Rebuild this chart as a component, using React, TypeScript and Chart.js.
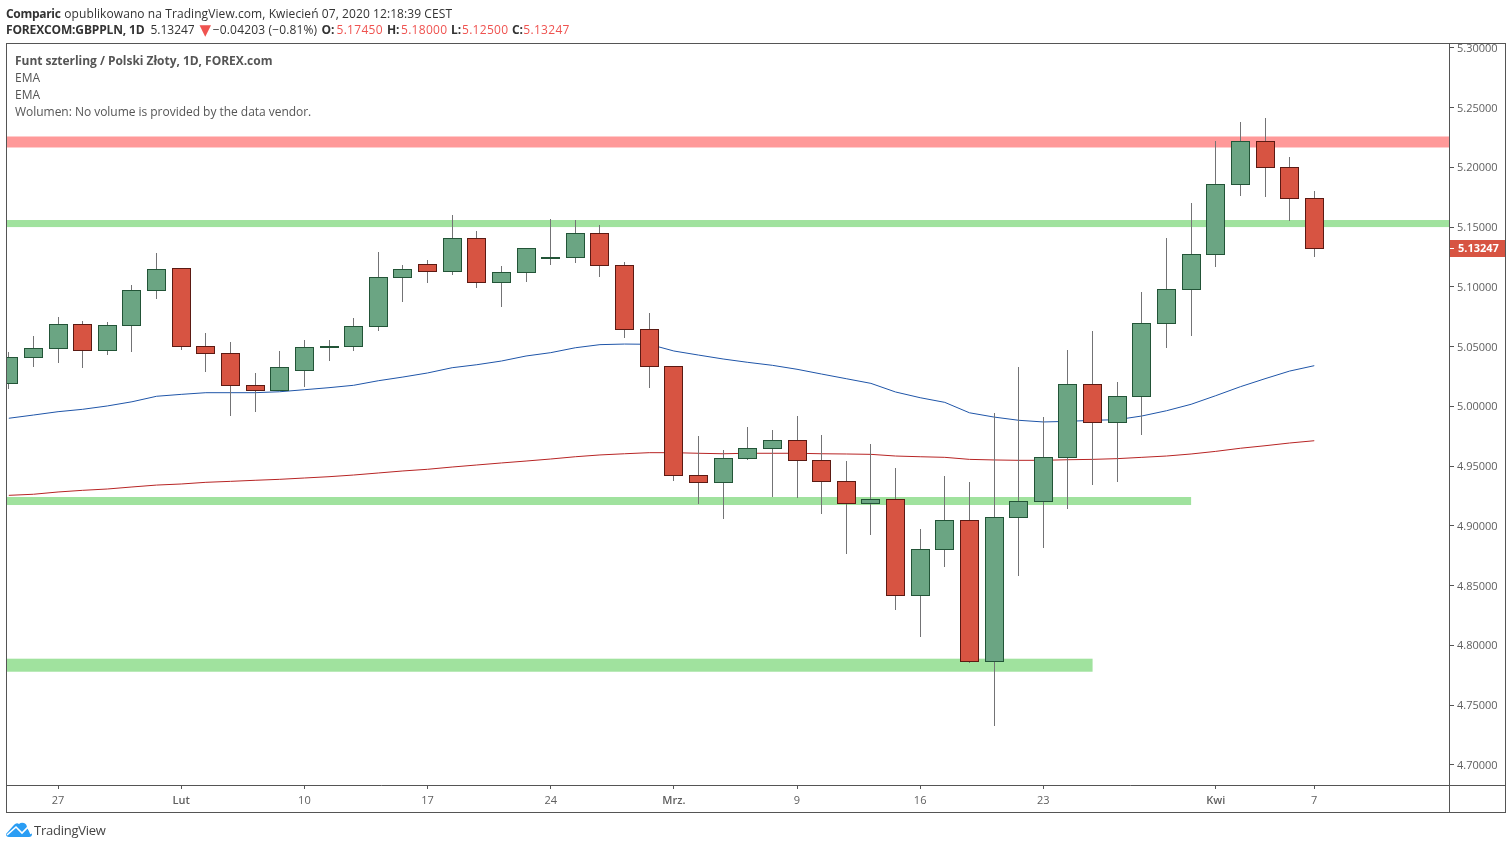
import React, { useEffect, useRef } from "react";
import { Chart, registerables } from "chart.js";

Chart.register(...registerables);

const opens = [5.0192,5.0410,5.0485,5.0686,5.0469,5.0678,5.0971,5.1155,5.0502,5.0444,5.0176,5.0134,5.0301,5.0495,5.0502,5.0669,5.1079,5.1188,5.1130,5.1406,5.1038,5.1121,5.1244,5.1249,5.1448,5.1180,5.0644,5.0335,4.9423,4.9364,4.9565,4.9649,4.9716,4.9548,4.9372,4.9188,4.9222,4.8418,4.8803,4.9046,4.7868,4.9071,4.9205,4.9573,5.0184,4.9866,5.0084,5.0695,5.0979,5.1272,5.1858,5.2218,5.2000,5.1745];
const closes = [5.0410,5.0485,5.0686,5.0469,5.0678,5.0971,5.1146,5.0502,5.0444,5.0176,5.0134,5.0326,5.0494,5.0501,5.0669,5.1079,5.1146,5.1130,5.1406,5.1038,5.1121,5.1322,5.1249,5.1448,5.1180,5.0644,5.0335,4.9423,4.9364,4.9565,4.9649,4.9716,4.9548,4.9372,4.9188,4.9222,4.8418,4.8803,4.9046,4.7868,4.9071,4.9205,4.9573,5.0184,4.9866,5.0084,5.0695,5.0979,5.1272,5.1858,5.2218,5.2000,5.1741,5.13247];
const highs = [5.0454,5.0588,5.0747,5.0714,5.0703,5.1015,5.1283,5.1155,5.0613,5.0538,5.0279,5.0463,5.0555,5.0555,5.0739,5.1291,5.1182,5.1224,5.1601,5.1467,5.1174,5.1322,5.1567,5.1559,5.1517,5.1208,5.0781,5.0335,4.9751,4.9634,4.9827,4.9802,4.9919,4.9760,4.9542,4.9685,4.9484,4.8973,4.9417,4.9367,4.9944,5.0329,4.9910,5.0471,5.0630,5.0203,5.0956,5.1408,5.1701,5.2220,5.2379,5.2413,5.2086,5.18];
const lows = [5.0147,5.0331,5.0365,5.0323,5.0432,5.0457,5.0900,5.0474,5.0290,4.9921,4.9955,5.0126,5.0164,5.0382,5.0465,5.0633,5.0875,5.1034,5.1101,5.0993,5.0834,5.1043,5.1185,5.1202,5.1085,5.0574,5.0156,4.9377,4.9185,4.9059,4.9553,4.9244,4.9235,4.9101,4.8767,4.8926,4.8298,4.8072,4.8658,4.7854,4.7327,4.8580,4.8814,4.9143,4.9344,4.9369,4.9762,5.0490,5.0591,5.1168,5.1762,5.1754,5.1553,5.125];
const blueEma = [4.9900,4.9927,4.9955,4.9975,5.0003,5.0038,5.0084,5.0100,5.0114,5.0114,5.0114,5.0122,5.0139,5.0156,5.0176,5.0214,5.0245,5.0279,5.0323,5.0348,5.0379,5.0421,5.0449,5.0490,5.0516,5.0521,5.0519,5.0463,5.0429,5.0396,5.0368,5.0343,5.0310,5.0270,5.0231,5.0192,5.0120,5.0072,5.0033,4.9946,4.9910,4.9883,4.9869,4.9874,4.9883,4.9888,4.9919,4.9963,5.0017,5.0089,5.0164,5.0231,5.0295,5.0340];
const redEma = [4.9255,4.9264,4.9283,4.9297,4.9308,4.9325,4.9341,4.9350,4.9364,4.9372,4.9381,4.9389,4.9400,4.9411,4.9425,4.9442,4.9459,4.9473,4.9492,4.9509,4.9526,4.9542,4.9559,4.9578,4.9593,4.9603,4.9612,4.9612,4.9607,4.9603,4.9607,4.9607,4.9607,4.9603,4.9601,4.9598,4.9584,4.9578,4.9573,4.9556,4.9551,4.9548,4.9548,4.9553,4.9556,4.9562,4.9573,4.9584,4.9601,4.9623,4.9649,4.9670,4.9693,4.9712];

const xTickIndexes = [2, 7, 12, 17, 22, 27, 32, 37, 42, 49, 53];
const xTickLabels = ["27", "Lut", "10", "17", "24", "Mrz.", "9", "16", "23", "Kwi", "7"];
const semiboldLabels = ["Lut", "Mrz.", "Kwi"];
const yTickValues = [4.7, 4.75, 4.8, 4.85, 4.9, 4.95, 5.0, 5.05, 5.1, 5.15, 5.2, 5.25, 5.3];

const bandTops = [5.2258, 5.1559, 4.9241, 4.7888];
const bandBottoms = [5.2166, 5.15, 4.9174, 4.7779];
const bandEnds = [null, null, 48, 44];
const bandColors = ["#FF9999", "#A0E29E", "#A0E29E", "#A0E29E"];

const lastPrice = 5.13247;
const lastPriceLabel = "5.13247";

const UP = "#6BA583", UP_B = "#225437", DOWN = "#D75442", DOWN_B = "#5B1A13";
const FONT = '"Open Sans", sans-serif';

const bandsPlugin = {
  id: "bands",
  beforeDatasetsDraw(chart: any) {
    const { ctx, chartArea: a, scales: { x, y } } = chart;
    ctx.save();
    bandTops.forEach((top, i) => {
      const y1 = y.getPixelForValue(top);
      const y2 = y.getPixelForValue(bandBottoms[i]);
      const end = bandEnds[i] === null ? a.right : x.getPixelForValue(bandEnds[i]);
      ctx.fillStyle = bandColors[i];
      ctx.fillRect(a.left, y1, end - a.left, y2 - y1);
    });
    ctx.restore();
  },
};

// Snap the scale-computed candle rectangles to whole device pixels.
const crispPlugin = {
  id: "crisp",
  afterDatasetsUpdate(chart: any) {
    chart.data.datasets.forEach((ds: any, di: number) => {
      if (ds.type === "line") return;
      const isBody = ds.label === "Body";
      chart.getDatasetMeta(di).data.forEach((el: any) => {
        const top = Math.round(Math.min(el.y, el.base));
        const bottom = Math.round(Math.max(el.y, el.base)) + (isBody ? 1 : 0);
        el.x = Math.floor(el.x) + 0.5;
        el.y = top;
        el.base = bottom;
        el.height = bottom - top;
      });
    });
  },
};

const framePlugin = {
  id: "frame",
  afterDraw(chart: any) {
    const { ctx, chartArea: a, scales: { y } } = chart;
    ctx.save();
    const py = y.getPixelForValue(lastPrice);
    ctx.fillStyle = DOWN;
    ctx.fillRect(a.right, Math.round(py) - 8, 56, 17);
    ctx.fillStyle = "#fff";
    ctx.fillRect(a.right, Math.round(py), 5, 1);
    ctx.font = `bold 11px ${FONT}`;
    ctx.textBaseline = "middle";
    ctx.textAlign = "left";
    ctx.fillText(lastPriceLabel, a.right + 9, py + 1);
    ctx.strokeStyle = "#555";
    ctx.lineWidth = 1;
    ctx.strokeRect(6.5, 43.5, 1499, 769);
    ctx.beginPath();
    ctx.moveTo(1449.5, 43.5);
    ctx.lineTo(1449.5, 812.5);
    ctx.moveTo(6.5, 785.5);
    ctx.lineTo(1505.5, 785.5);
    ctx.stroke();
    ctx.restore();
  },
};

const RED = "#EF5350";

export default function App() {
  const ref = useRef<HTMLCanvasElement>(null);
  useEffect(() => {
    document.body.style.margin = "0";
    const xy = (a: number[]) => a.map((v, i) => ({ x: i, y: v }));
    const isUp = (i: number) => closes[i] >= opens[i];
    const chart = new Chart(ref.current!, {
      type: "bar",
      data: {
        datasets: [
          {
            label: "Body",
            order: 0,
            data: opens.map((o, i) => ({ x: i, y: [o, closes[i]] })),
            barThickness: 19,
            grouped: false,
            borderWidth: 1,
            borderSkipped: false,
            inflateAmount: 0,
            backgroundColor: (c: any) => (isUp(c.dataIndex) ? UP : DOWN),
            borderColor: (c: any) => (isUp(c.dataIndex) ? UP_B : DOWN_B),
          },
          {
            label: "Wick",
            order: 1,
            data: lows.map((l, i) => ({ x: i, y: [l, highs[i]] })),
            barThickness: 1,
            grouped: false,
            inflateAmount: 0,
            backgroundColor: "#737375",
          },
          {
            type: "line",
            label: "EMA",
            order: 2,
            data: xy(blueEma),
            borderColor: "#1F55A8",
            borderWidth: 1,
            pointRadius: 0,
            tension: 0,
          },
          {
            type: "line",
            label: "EMA",
            order: 3,
            data: xy(redEma),
            borderColor: "#B72424",
            borderWidth: 1,
            pointRadius: 0,
            tension: 0,
          },
        ] as any,
      },
      options: {
        responsive: false,
        animation: false,
        events: [],
        layout: { padding: { left: 7, top: 44, right: 7, bottom: 37 } },
        plugins: { legend: { display: false }, tooltip: { enabled: false }, title: { display: false } },
        scales: {
          x: {
            type: "linear",
            offset: false,
            min: -0.073,
            max: 58.47,
            border: { display: false },
            grid: { offset: false, drawOnChartArea: false, drawTicks: true, tickLength: 4, tickColor: "#555" },
            afterFit: (s: any) => { s.height = 27; },
            afterBuildTicks: (s: any) => { s.ticks = xTickIndexes.map((value) => ({ value })); },
            ticks: {
              autoSkip: false,
              maxRotation: 0,
              padding: 5,
              color: "#5f5f5f",
              font: (c: any) => ({
                family: FONT,
                size: 11,
                weight: c.tick && semiboldLabels.includes(xTickLabels[xTickIndexes.indexOf(c.tick.value)]) ? "600" : "normal",
              }),
              callback: (v: any) => xTickLabels[xTickIndexes.indexOf(v)],
            },
          },
          y: {
            type: "linear",
            position: "right",
            min: 4.6831,
            max: 5.3032,
            border: { display: false },
            grid: { drawOnChartArea: false, drawTicks: true, tickLength: 5, tickColor: "#555" },
            afterFit: (s: any) => { s.width = 56; },
            afterBuildTicks: (s: any) => { s.ticks = yTickValues.map((value) => ({ value })); },
            ticks: {
              autoSkip: false,
              padding: 3,
              labelOffset: 1,
              color: "#5f5f5f",
              font: { family: FONT, size: 11 },
              callback: (v: any) => Number(v).toFixed(5),
            },
          },
        },
      } as any,
      plugins: [bandsPlugin, crispPlugin, framePlugin],
    });
    return () => chart.destroy();
  }, []);

  const text = (top: number, left: number, extra?: React.CSSProperties): React.CSSProperties => ({
    position: "absolute", top, left, fontFamily: FONT, fontSize: 12, lineHeight: "16px", whiteSpace: "nowrap", color: "#333", ...extra,
  });
  const bold: React.CSSProperties = { fontWeight: 700, letterSpacing: -0.15 };
  const value: React.CSSProperties = { color: RED, letterSpacing: 0.3 };
  return (
    <div style={{ position: "relative", width: 1512, height: 849, background: "#fff", overflow: "hidden" }}>
      <canvas ref={ref} width={1512} height={849} style={{ display: "block", position: "absolute", left: 0, top: 0 }} />
      <div style={text(6, 6, { ...bold, letterSpacing: -0.3 })}>Comparic</div>
      <div style={text(6, 64.3, { letterSpacing: 0.08 })}>opublikowano na TradingView.com, Kwiecień 07, 2020 12:18:39 CEST</div>
      <div style={text(22, 6, bold)}>FOREXCOM:GBPPLN, 1D</div>
      <div style={text(22, 150.4)}>5.13247</div>
      <div style={text(22, 199.5, { color: RED, fontSize: 15, fontFamily: '"DejaVu Sans", sans-serif' })}>▼</div>
      <div style={text(22, 212.8, { letterSpacing: 0.15 })}>−0.04203 (−0.81%)</div>
      <div style={text(22, 321.5, bold)}>O:</div>
      <div style={text(22, 336.5, value)}>5.17450</div>
      <div style={text(22, 387, bold)}>H:</div>
      <div style={text(22, 401, value)}>5.18000</div>
      <div style={text(22, 451, bold)}>L:</div>
      <div style={text(22, 462, value)}>5.12500</div>
      <div style={text(22, 512, bold)}>C:</div>
      <div style={text(22, 523.3, value)}>5.13247</div>
      <div style={text(53, 15, { color: "#555", fontWeight: 700, letterSpacing: -0.03 })}>Funt szterling / Polski Złoty, 1D, FOREX.com</div>
      <div style={text(70, 15, { color: "#555" })}>EMA</div>
      <div style={text(87, 15, { color: "#555" })}>EMA</div>
      <div style={text(104, 15, { color: "#555", letterSpacing: -0.03 })}>Wolumen: No volume is provided by the data vendor.</div>
      <svg width="26" height="16" viewBox="0 0 26 16" style={{ position: "absolute", left: 6, top: 822 }}>
        <path d="M0 12 L7 4 Q10 0 13 2 Q15 0 18 1 Q21 2 21 6 L26 12 Q26 15 23 15 L3 15 Q0 15 0 12 Z" fill="#2A9DF4" />
        <polyline points="1,13 10,5 16,11 22,5 25,12" fill="none" stroke="#fff" strokeWidth="1.6" />
      </svg>
      <div style={text(822, 34, { fontSize: 13, letterSpacing: -0.25, color: "#444" })}>TradingView</div>
    </div>
  );
}
